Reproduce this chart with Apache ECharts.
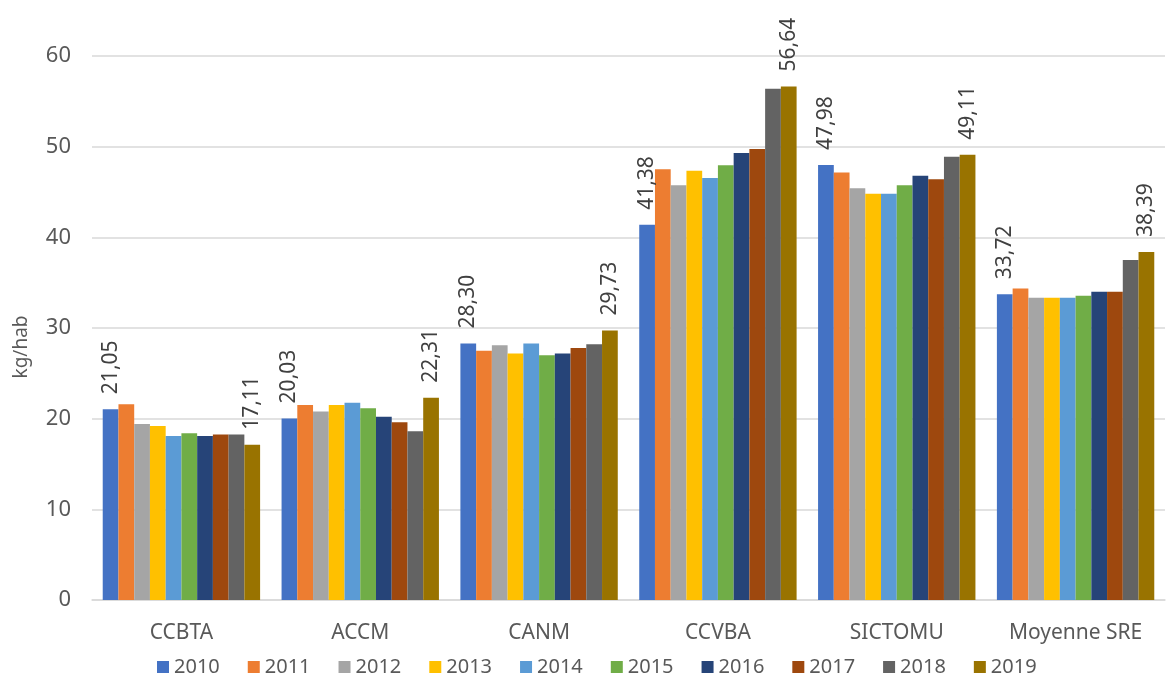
<!DOCTYPE html>
<html>
<head>
<meta charset="utf-8">
<script src="https://cdn.jsdelivr.net/npm/echarts@6/dist/echarts.min.js"></script>
<style>html,body{margin:0;padding:0;background:#fff}#c{width:1168px;height:680px}</style>
</head>
<body>
<div id="c"></div>
<script>
const categories = ['CCBTA', 'ACCM', 'CANM', 'CCVBA', 'SICTOMU', 'Moyenne SRE'];
const years = ['2010','2011','2012','2013','2014','2015','2016','2017','2018','2019'];
const y2010 = [21.05, 20.03, 28.30, 41.38, 47.98, 33.72];
const y2011 = [21.6, 21.5, 27.5, 47.5, 47.15, 34.35];
const y2012 = [19.4, 20.8, 28.1, 45.75, 45.4, 33.35];
const y2013 = [19.2, 21.5, 27.2, 47.35, 44.8, 33.35];
const y2014 = [18.1, 21.75, 28.3, 46.55, 44.8, 33.35];
const y2015 = [18.4, 21.15, 27.0, 47.95, 45.75, 33.55];
const y2016 = [18.1, 20.2, 27.2, 49.3, 46.8, 34.0];
const y2017 = [18.25, 19.6, 27.8, 49.75, 46.4, 34.0];
const y2018 = [18.25, 18.6, 28.2, 56.4, 48.9, 37.5];
const y2019 = [17.11, 22.31, 29.73, 56.64, 49.11, 38.39];
const yTicks = { min: 0, max: 60, interval: 10 };
const yAxisTitle = 'kg/hab';
const seriesData = [y2010,y2011,y2012,y2013,y2014,y2015,y2016,y2017,y2018,y2019];
const colors = ['#4472C4','#ED7D31','#A5A5A5','#FFC000','#5B9BD5','#70AD47','#264478','#9E480E','#636363','#997300'];
const labeled = { '2010': true, '2019': true };
const FONT = '"Noto Sans", "Open Sans", sans-serif';

const chart = echarts.init(document.getElementById('c'), null, { renderer: 'canvas' });
chart.setOption({
  animation: false,
  color: colors,
  textStyle: { fontFamily: FONT },
  grid: { left: 92, right: 3, top: 56, bottom: 80, containLabel: false },
  graphic: [{
    type: 'text', x: 22, y: 347, rotation: Math.PI / 2,
    style: { text: yAxisTitle, fontSize: 19, fill: '#595959', fontFamily: FONT, align: 'center', verticalAlign: 'middle' }
  }],
  legend: {
    data: years,
    left: 152, top: 652,
    itemWidth: 12, itemHeight: 12, itemGap: 28,
    icon: 'rect',
    textStyle: { fontSize: 20, color: '#595959', fontFamily: FONT }
  },
  xAxis: {
    type: 'category',
    data: categories,
    axisLine: { lineStyle: { color: '#d9d9d9', width: 1.5 } },
    axisTick: { show: false },
    axisLabel: { fontSize: 21, color: '#595959', margin: 23, fontFamily: FONT }
  },
  yAxis: {
    type: 'value',
    min: yTicks.min, max: yTicks.max, interval: yTicks.interval,
    axisLine: { show: false }, axisTick: { show: false },
    axisLabel: { fontSize: 22, color: '#595959', margin: 21, fontFamily: FONT },
    splitLine: { lineStyle: { color: '#d9d9d9', width: 1.5 } }
  },
  series: years.map((y, i) => ({
    name: y,
    type: 'bar',
    data: seriesData[i],
    barGap: '0%',
    barCategoryGap: '12%',
    label: labeled[y] ? {
      show: true, position: 'top', rotate: 90, align: 'left', verticalAlign: 'middle',
      distance: 15, fontSize: 21, color: '#404040', fontFamily: FONT,
      formatter: p => p.value.toFixed(2).replace('.', ',')
    } : { show: false }
  }))
});
</script>
</body>
</html>
